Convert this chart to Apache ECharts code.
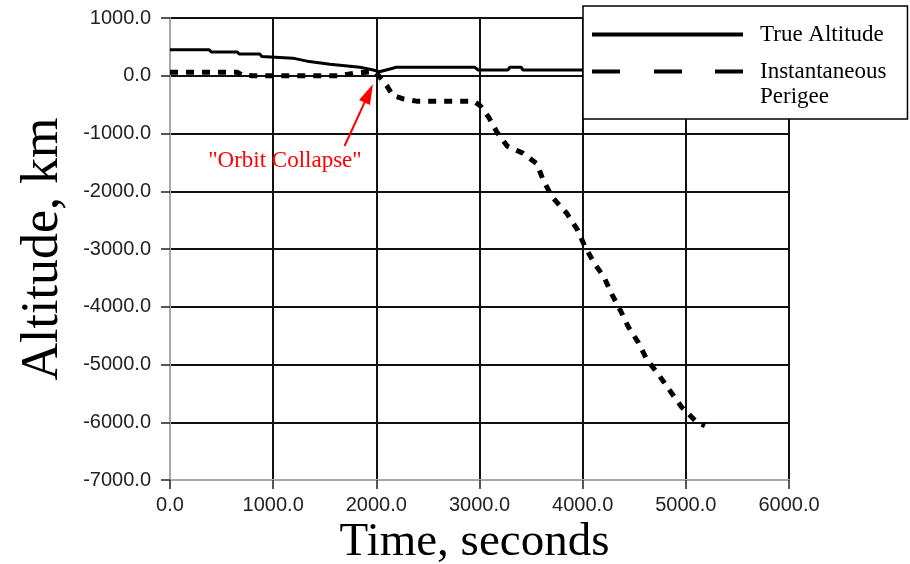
<!DOCTYPE html>
<html>
<head>
<meta charset="utf-8">
<script src="https://cdn.jsdelivr.net/npm/echarts@6/dist/echarts.min.js"></script>
<style>
    *{margin:0;padding:0;}
    body{background:#fff;overflow:hidden;}
    #chart{width:910px;height:564px;}
</style>
</head>
<body>
<div id="chart"></div>
<script type="text/javascript">
// values (time in s, altitude in km)
var trueTime = [0, 380, 400, 655, 670, 870, 890, 1190, 1350, 1550, 1840, 1970, 2030, 2160, 2190, 2955, 2985, 3275, 3295, 3405, 3420, 3975, 5180];
var trueAlt  = [450, 450, 410, 410, 375, 375, 335, 305, 245, 200, 147, 100, 70, 130, 147, 147, 100, 100, 147, 147, 100, 100, 90];

var perigeeTime = [0, 650, 700, 800, 1650, 1800, 1900, 1990, 2060, 2100, 2160, 2260, 2390, 2940, 3005, 3090, 3170, 3270, 3420, 3555, 3615, 3700, 3845, 3950, 4020, 4110, 4205, 4282, 4362, 4443, 4540, 4621, 4734, 4848, 4961, 5107, 5185];
var perigeeAlt  = [60, 60, 10, 0, 0, 50, 60, 70, -80, -170, -340, -400, -440, -440, -515, -720, -980, -1220, -1340, -1520, -1795, -2090, -2380, -2670, -2950, -3240, -3480, -3780, -4050, -4350, -4620, -4910, -5170, -5460, -5740, -6000, -6060];

// annotation anchors, in data units
var noteAt = [1114, -1476];
var arrowFrom = [1692, -1216];
var arrowTo = [1926, -305];

function pairs(xs, ys){
    var out = [];
    for (var i = 0; i < xs.length; i++) out.push([xs[i], ys[i]]);
    return out;
}

var chart = echarts.init(document.getElementById('chart'));
var option = {
    animation: false,
    backgroundColor: '#fff',
    grid: {left: 170, right: 121, top: 18, bottom: 84, outerBoundsMode: 'none'},
    legend: {
        left: 583, top: 6,
        orient: 'vertical',
        selectedMode: false,
        itemWidth: 151, itemHeight: 4, itemGap: -13,
        padding: [16, 21, 10, 9],
        backgroundColor: '#fff',
        borderColor: '#000', borderWidth: 1.5, borderRadius: 0,
        textStyle: {fontFamily: 'Liberation Serif', fontSize: 23, color: '#000', lineHeight: 25, padding: [0, 0, 0, 12]},
        // blank first line keeps "Instantaneous" level with its icon
        formatter: function (name) {
            return name === 'Instantaneous Perigee' ? ' \nInstantaneous\nPerigee' : name;
        },
        data: [
            {name: 'True Altitude', icon: 'path://M0,0h151v4h-151z'},
            {name: 'Instantaneous Perigee', icon: 'path://M0,0h28v4h-28zM62,0h28v4h-28zM123,0h28v4h-28z'}
        ]
    },
    xAxis: {
        type: 'value', min: 0, max: 6000, interval: 1000,
        name: 'Time, seconds', nameLocation: 'middle', nameGap: 39, nameMoveOverlap: false,
        nameTextStyle: {fontFamily: 'Liberation Serif', fontSize: 47, color: '#000', padding: [0, 10, 0, 0]},
        axisLine: {show: true, onZero: false, lineStyle: {color: '#a8a8a8', width: 2}},
        axisTick: {show: true, length: 9, lineStyle: {color: '#222', width: 1.5}},
        axisLabel: {margin: 15, fontFamily: 'Liberation Sans', fontSize: 20, color: '#222',
            formatter: function (v) { return v.toFixed(1); }},
        splitLine: {show: true, showMinLine: false, lineStyle: {color: '#111', width: 2}}
    },
    yAxis: {
        type: 'value', min: -7000, max: 1000, interval: 1000,
        name: 'Altitude, km', nameLocation: 'middle', nameGap: 101, nameMoveOverlap: false,
        nameTextStyle: {fontFamily: 'Liberation Serif', fontSize: 52, color: '#000'},
        axisLine: {show: true, onZero: false, lineStyle: {color: '#a8a8a8', width: 2}},
        axisTick: {show: true, length: 9, lineStyle: {color: '#222', width: 1.5}},
        axisLabel: {margin: 19, fontFamily: 'Liberation Sans', fontSize: 20, color: '#222',
            formatter: function (v) { return v.toFixed(1); }},
        splitLine: {show: true, showMinLine: false, lineStyle: {color: '#111', width: 2}}
    },
    series: [
        {
            name: 'True Altitude', type: 'line', symbol: 'none', z: 3,
            data: pairs(trueTime, trueAlt),
            itemStyle: {color: '#000'},
            lineStyle: {color: '#000', width: 3}
        },
        {
            name: 'Instantaneous Perigee', type: 'line', symbol: 'none', z: 3,
            data: pairs(perigeeTime, perigeeAlt),
            itemStyle: {color: '#000'},
            lineStyle: {color: '#000', width: 5, type: [8, 8], cap: 'butt'},
            markPoint: {
                silent: true,
                symbol: 'circle', symbolSize: 1,
                itemStyle: {color: 'rgba(0,0,0,0)'},
                label: {show: true, position: 'inside', formatter: '"Orbit Collapse"',
                    color: '#ff0000', fontFamily: 'Liberation Serif', fontSize: 23},
                data: [{coord: noteAt}]
            },
            markLine: {
                silent: true,
                symbol: ['none', 'triangle'], symbolSize: [12, 20],
                lineStyle: {color: '#ff0000', width: 2, type: 'solid'},
                label: {show: false},
                data: [[{coord: arrowFrom}, {coord: arrowTo}]]
            }
        }
    ]
};
chart.setOption(option);
</script>
</body>
</html>
